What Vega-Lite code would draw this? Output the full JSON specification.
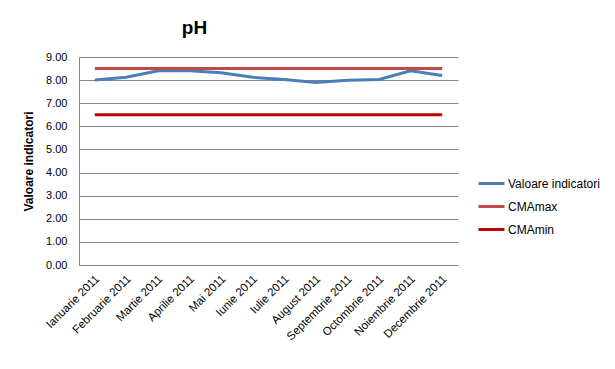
{
  "$schema": "https://vega.github.io/schema/vega-lite/v6.json",
  "width": 379,
  "height": 208,
  "autosize": {"type": "none"},
  "padding": {"left": 79, "top": 57, "right": 157, "bottom": 104},
  "background": "white",
  "title": {"text": "pH", "fontSize": 19, "font": "Liberation Sans", "fontWeight": "bold", "anchor": "middle", "dx": -74, "offset": 13, "color": "#000000"},
  "config": {"view": {"stroke": null}, "font": "Liberation Sans"},
  "data": {"values": [
    {"luna": "Ianuarie 2011", "serie": "Valoare indicatori", "v": 8.0},
    {"luna": "Februarie 2011", "serie": "Valoare indicatori", "v": 8.12},
    {"luna": "Martie 2011", "serie": "Valoare indicatori", "v": 8.4},
    {"luna": "Aprilie 2011", "serie": "Valoare indicatori", "v": 8.4},
    {"luna": "Mai 2011", "serie": "Valoare indicatori", "v": 8.32},
    {"luna": "Iunie 2011", "serie": "Valoare indicatori", "v": 8.12},
    {"luna": "Iulie 2011", "serie": "Valoare indicatori", "v": 8.03},
    {"luna": "August 2011", "serie": "Valoare indicatori", "v": 7.9},
    {"luna": "Septembrie 2011", "serie": "Valoare indicatori", "v": 7.99},
    {"luna": "Octombrie 2011", "serie": "Valoare indicatori", "v": 8.03},
    {"luna": "Noiembrie 2011", "serie": "Valoare indicatori", "v": 8.4},
    {"luna": "Decembrie 2011", "serie": "Valoare indicatori", "v": 8.2},
    {"luna": "Ianuarie 2011", "serie": "CMAmax", "v": 8.5},
    {"luna": "Februarie 2011", "serie": "CMAmax", "v": 8.5},
    {"luna": "Martie 2011", "serie": "CMAmax", "v": 8.5},
    {"luna": "Aprilie 2011", "serie": "CMAmax", "v": 8.5},
    {"luna": "Mai 2011", "serie": "CMAmax", "v": 8.5},
    {"luna": "Iunie 2011", "serie": "CMAmax", "v": 8.5},
    {"luna": "Iulie 2011", "serie": "CMAmax", "v": 8.5},
    {"luna": "August 2011", "serie": "CMAmax", "v": 8.5},
    {"luna": "Septembrie 2011", "serie": "CMAmax", "v": 8.5},
    {"luna": "Octombrie 2011", "serie": "CMAmax", "v": 8.5},
    {"luna": "Noiembrie 2011", "serie": "CMAmax", "v": 8.5},
    {"luna": "Decembrie 2011", "serie": "CMAmax", "v": 8.5},
    {"luna": "Ianuarie 2011", "serie": "CMAmin", "v": 6.5},
    {"luna": "Februarie 2011", "serie": "CMAmin", "v": 6.5},
    {"luna": "Martie 2011", "serie": "CMAmin", "v": 6.5},
    {"luna": "Aprilie 2011", "serie": "CMAmin", "v": 6.5},
    {"luna": "Mai 2011", "serie": "CMAmin", "v": 6.5},
    {"luna": "Iunie 2011", "serie": "CMAmin", "v": 6.5},
    {"luna": "Iulie 2011", "serie": "CMAmin", "v": 6.5},
    {"luna": "August 2011", "serie": "CMAmin", "v": 6.5},
    {"luna": "Septembrie 2011", "serie": "CMAmin", "v": 6.5},
    {"luna": "Octombrie 2011", "serie": "CMAmin", "v": 6.5},
    {"luna": "Noiembrie 2011", "serie": "CMAmin", "v": 6.5},
    {"luna": "Decembrie 2011", "serie": "CMAmin", "v": 6.5}
  ]},
  "mark": {"type": "line", "strokeWidth": 3, "strokeCap": "butt"},
  "encoding": {
    "x": {
      "field": "luna", "type": "nominal", "sort": null,
      "scale": {"type": "band", "paddingInner": 0, "paddingOuter": 0},
      "axis": {"title": null, "labelAngle": -45, "labelAlign": "right", "labelBaseline": "middle", "labelFontSize": 11.5, "labelColor": "#000000", "labelPadding": 12, "labelOffset": 3, "ticks": false, "domainColor": "#868686", "domainWidth": 1, "grid": false, "labelFont": "Liberation Sans"}
    },
    "y": {
      "field": "v", "type": "quantitative",
      "scale": {"domain": [0, 9], "nice": false, "zero": true},
      "axis": {"title": "Valoare indicatori", "titleFontSize": 12, "titleFontWeight": "bold", "titleColor": "#000000", "titlePadding": 10, "values": [0,1,2,3,4,5,6,7,8,9], "format": ".2f", "labelFontSize": 11, "labelColor": "#000000", "labelPadding": 12, "ticks": false, "domainColor": "#868686", "gridColor": "#868686", "gridWidth": 1, "labelFont": "Liberation Sans", "titleFont": "Liberation Sans"}
    },
    "color": {
      "field": "serie", "type": "nominal",
      "scale": {"domain": ["Valoare indicatori", "CMAmax", "CMAmin"], "range": ["#4A7EBB", "#BE4B48", "#C00000"]},
      "legend": {"title": null, "orient": "none", "legendX": 398, "legendY": 112, "symbolType": "stroke", "symbolSize": 676, "symbolStrokeWidth": 3, "labelFontSize": 12, "labelColor": "#000000", "labelOffset": 2, "rowPadding": 2, "labelFont": "Liberation Sans"}
    }
  }
}
